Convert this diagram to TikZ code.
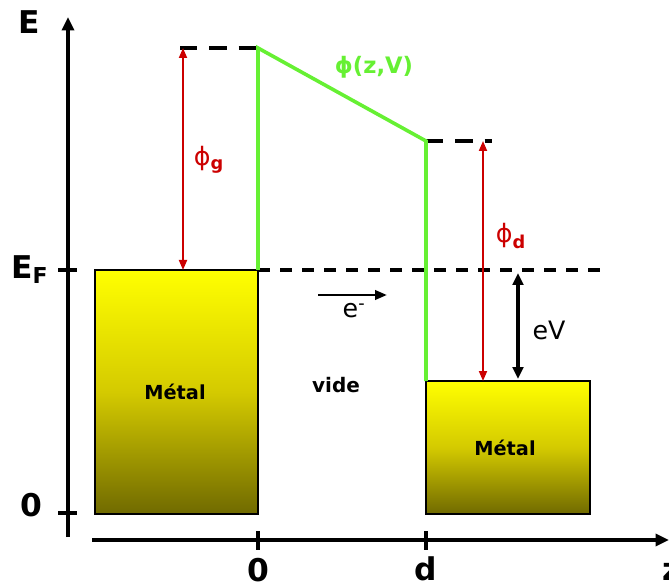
\documentclass[tikz,border=0pt]{standalone}
\usepackage{fontspec}
\setmainfont{DejaVu Sans}
\usetikzlibrary{arrows.meta}
\definecolor{phired}{RGB}{204,0,0}
\definecolor{phigreen}{RGB}{102,240,51}
\definecolor{metalbot}{RGB}{112,106,0}
\definecolor{metalmid}{RGB}{212,202,0}
\tikzset{
  axis/.style={line width=2.4pt},
  axlabel/.style={inner sep=0pt, font=\fontsize{23.5}{26}\selectfont\bfseries},
  tick/.style={line width=2.4pt},
  metal/.style={top color=yellow, bottom color=metalbot, middle color=metalmid},
  metaledge/.style={draw=black, line width=1.9pt},
  metallabel/.style={inner sep=0pt, font=\fontsize{14.5}{16}\selectfont\bfseries},
  barrier/.style={phigreen, line width=2.7pt},
  topdash/.style={line width=3pt, dash pattern=on 13pt off 9pt},
  efdash/.style={line width=2.4pt, dash pattern=on 9pt off 7.5pt},
  redarrow/.style={phired, line width=1.4pt, {Triangle[length=7.5pt,width=6pt]}-{Triangle[length=7.5pt,width=6pt]}},
  redlabel/.style={phired, inner sep=0pt, font=\fontsize{19}{21}\selectfont},
  txt/.style={inner sep=0pt, font=\fontsize{19}{21}\selectfont},
}
\begin{document}
\begin{tikzpicture}[x=0.75pt, y=-0.75pt]
\useasboundingbox (0,0) rectangle (669,585);
% coordinates
\coordinate (yb) at (68,537);
\coordinate (yt) at (68,17);
\coordinate (xl) at (92,540);
\coordinate (xr) at (669,540);
\coordinate (ef) at (258,270);
\coordinate (topl) at (258,48);
\coordinate (topr) at (426,141);
\coordinate (rbtop) at (426,381);
% metal boxes
\shade[metal] (95,270) rectangle (258,514);
\draw[metaledge] (95,270) rectangle (258,514);
\shade[metal] (426,381) rectangle (590,514);
\draw[metaledge] (426,381) rectangle (590,514);
\node[metallabel] (m1) at (175,392) {Métal};
\node[metallabel] (m2) at (505,448) {Métal};
% axes
\draw[axis, -{Triangle[length=10pt,width=9pt]}] (yb) -- (yt);
\draw[axis, -{Triangle[length=10pt,width=9pt]}] (xl) -- (xr);
\draw[tick] (58,270) -- (77,270);
\draw[tick] (58,513) -- (77,513);
\draw[tick] (258,531) -- (258,550);
\draw[tick] (426,531) -- (426,550);
\node[axlabel] (E) at (29,22) {E};
\node[axlabel, anchor=west] (EF) at (11,270) {E\textsubscript{F}};
\node[axlabel] (y0) at (31,505) {0};
\node[axlabel] (x0) at (258,570) {0};
\node[axlabel] (xd) at (426,569) {d};
\node[axlabel] (xz) at (672,572) {z};
% dashed levels
\draw[topdash] (180,48) -- (topl);
\draw[topdash] (topr) -- (492,141);
\draw[efdash] (ef) -- (610,270);
% barrier
\draw[barrier] (ef) -- (topl) -- (topr) -- (rbtop);
\node[phigreen, inner sep=0pt, font=\fontsize{17}{19}\selectfont\bfseries] (phizv) at (374,67) {ϕ(z,V)};
% work functions
\draw[redarrow] (183,270) -- (183,48);
\node[redlabel] (phig) at (209,160) {ϕ\textsubscript{\bfseries g}};
\draw[redarrow] (483,141) -- (483,381);
\node[redlabel] (phid) at (511,236) {ϕ\textsubscript{\bfseries d}};
% eV
\draw[line width=2.4pt, {Triangle[length=9pt,width=8pt]}-{Triangle[length=9pt,width=8pt]}] (518,273) -- (518,379);
\node[txt] (eV) at (549,330) {eV};
% electron
\draw[line width=2.1pt, -{Triangle[length=9pt,width=7pt]}] (318,295) -- (387,295);
\node[txt] (elec) at (354,311) {e\textsuperscript{-}};
\node[inner sep=0pt, font=\fontsize{15}{17}\selectfont\bfseries] (vide) at (336,385) {vide};
\end{tikzpicture}
\end{document}
